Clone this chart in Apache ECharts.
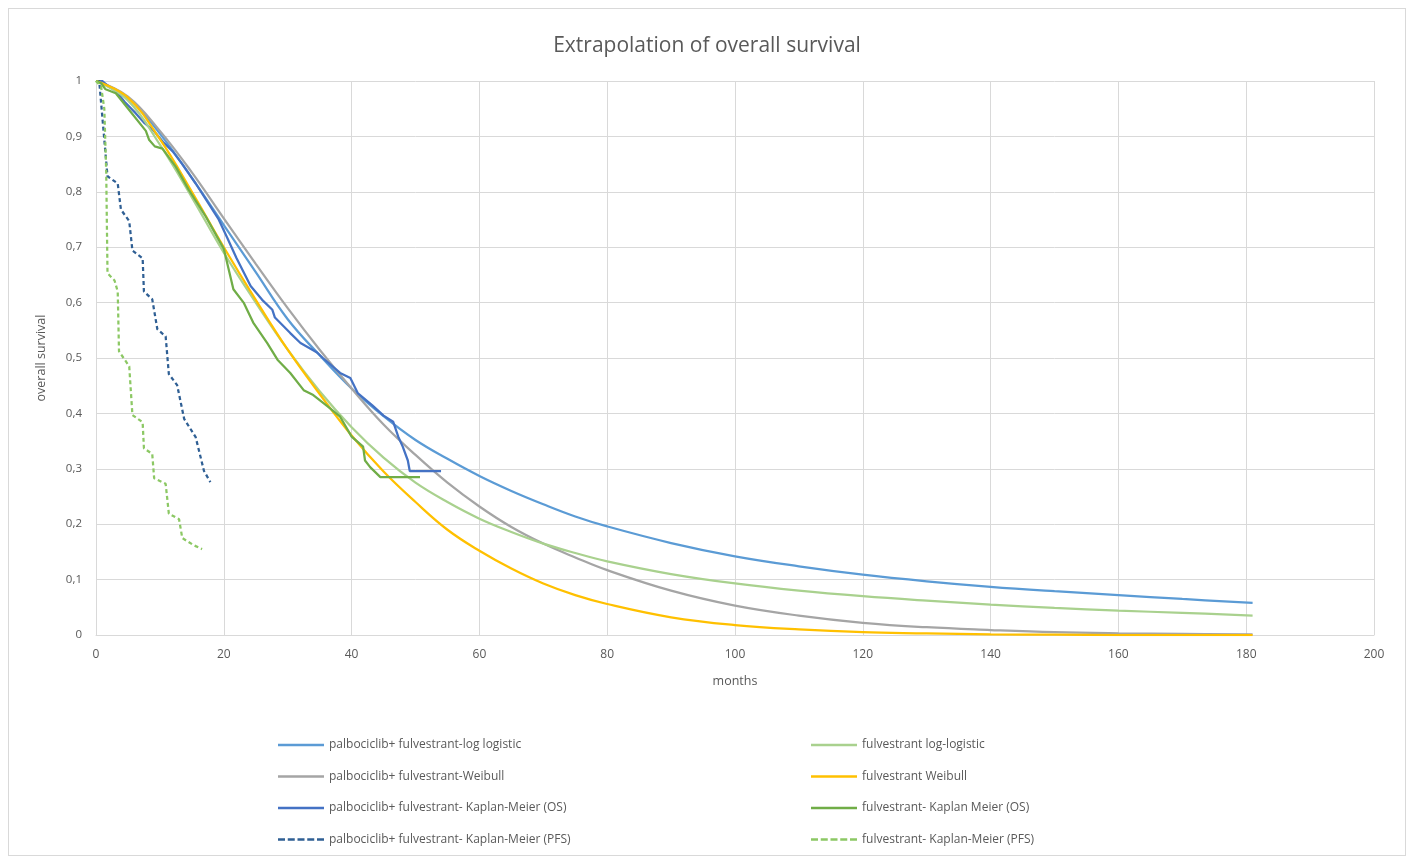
<!DOCTYPE html>
<html>
<head>
<meta charset="utf-8">
<title>Extrapolation of overall survival</title>
<script src="https://cdn.jsdelivr.net/npm/echarts@6/dist/echarts.min.js"></script>
<style>
  html, body { margin: 0; padding: 0; background: #ffffff; }
  #chart { position: absolute; left: 8px; top: 8px; width: 1398px; height: 848px; border: 1px solid #d9d9d9; box-sizing: border-box; }
</style>
</head>
<body>
<div id="chart"></div>
<script>
// Months at which the fitted (parametric) curves are sampled
const fitMonths = [0, 5, 10, 15, 20, 25, 30, 35, 40, 45, 50, 55, 60, 65, 70, 75, 80, 90, 100, 110, 120, 130, 140, 150, 160, 170, 181];

// Fitted survival curves
const palboLogLogistic = [1, 0.97, 0.905, 0.825, 0.74, 0.655, 0.57, 0.505, 0.445, 0.395, 0.352, 0.318, 0.287, 0.26, 0.236, 0.214, 0.196, 0.166, 0.142, 0.124, 0.109, 0.097, 0.087, 0.079, 0.072, 0.065, 0.058];
const palboWeibull = [1, 0.972, 0.91, 0.835, 0.752, 0.67, 0.59, 0.515, 0.445, 0.38, 0.325, 0.275, 0.232, 0.195, 0.165, 0.14, 0.117, 0.08, 0.053, 0.035, 0.022, 0.014, 0.009, 0.005, 0.003, 0.002, 0.001];
const fulvLogLogistic = [1, 0.965, 0.885, 0.79, 0.69, 0.6, 0.515, 0.44, 0.375, 0.32, 0.275, 0.24, 0.21, 0.186, 0.165, 0.148, 0.133, 0.11, 0.093, 0.08, 0.07, 0.062, 0.055, 0.049, 0.044, 0.04, 0.035];
const fulvWeibull = [1, 0.97, 0.895, 0.8, 0.7, 0.605, 0.515, 0.435, 0.36, 0.295, 0.24, 0.19, 0.152, 0.12, 0.093, 0.072, 0.056, 0.032, 0.018, 0.01, 0.005, 0.003, 0.001, 0.0005, 0, 0, 0];

// Kaplan-Meier estimates: [month, survival]
const palboKmOs = [[0, 1], [1, 1], [2, 0.99], [3.1, 0.982], [4.5, 0.962], [6.2, 0.942], [7.5, 0.925], [8.9, 0.912], [10.5, 0.89], [12, 0.873], [13.5, 0.85], [15.6, 0.815], [17, 0.79], [19.2, 0.75], [20.5, 0.718], [22, 0.68], [24.2, 0.63], [26, 0.605], [27.6, 0.587], [28, 0.573], [30.4, 0.545], [32, 0.527], [34.6, 0.51], [35.5, 0.5], [38.2, 0.473], [39.8, 0.464], [41, 0.436], [43.2, 0.415], [45, 0.396], [46.5, 0.385], [47.3, 0.358], [48, 0.34], [48.8, 0.315], [49.1, 0.296], [54, 0.296]];
const fulvKmOs = [[0, 1], [0.8, 0.996], [1.5, 0.985], [3.1, 0.978], [5.1, 0.949], [7.8, 0.91], [8.3, 0.894], [9.2, 0.882], [10.4, 0.878], [12.5, 0.845], [14.5, 0.804], [17.2, 0.755], [20, 0.697], [21.5, 0.624], [23.1, 0.6], [24.6, 0.564], [26.8, 0.527], [28.4, 0.497], [30.4, 0.473], [32.5, 0.442], [34, 0.433], [36.2, 0.413], [38.2, 0.394], [40, 0.358], [41.8, 0.34], [42.1, 0.315], [42.9, 0.303], [44.5, 0.285], [50.7, 0.285]];
const palboKmPfs = [[0, 1], [0.5, 1], [1.8, 0.828], [3.4, 0.815], [3.9, 0.768], [5.2, 0.747], [5.7, 0.694], [7.3, 0.68], [7.5, 0.62], [8.8, 0.606], [9.6, 0.552], [10.9, 0.539], [11.4, 0.471], [12.7, 0.451], [13.8, 0.39], [15.6, 0.357], [16.9, 0.296], [17.9, 0.276]];
const fulvKmPfs = [[0, 1], [0.8, 0.99], [1.3, 0.95], [1.6, 0.835], [1.8, 0.653], [2.9, 0.64], [3.4, 0.62], [3.6, 0.512], [5.2, 0.485], [5.7, 0.397], [7.3, 0.384], [7.5, 0.337], [8.8, 0.327], [9.1, 0.283], [10.9, 0.273], [11.4, 0.219], [13, 0.209], [13.5, 0.175], [15.3, 0.162], [16.6, 0.155]];

// Axis ticks
const xTicks = { min: 0, max: 200, interval: 20 };
const yTicks = { min: 0, max: 1, interval: 0.1 };

const seriesNames = [
  'palbociclib+ fulvestrant-log logistic',
  'palbociclib+ fulvestrant-Weibull',
  'palbociclib+ fulvestrant- Kaplan-Meier (OS)',
  'palbociclib+ fulvestrant- Kaplan-Meier (PFS)',
  'fulvestrant log-logistic',
  'fulvestrant Weibull',
  'fulvestrant- Kaplan Meier (OS)',
  'fulvestrant- Kaplan-Meier (PFS)'
];
const dashedNames = [seriesNames[3], seriesNames[7]];

const pair = (xs, ys) => xs.map((x, i) => [x, ys[i]]);

const textColor = '#595959';
const gridColor = '#d9d9d9';
const font = '"Open Sans", "Noto Sans", sans-serif';

// Legend keys: a plain stroke, or five short dashes for the PFS curves
const solidIcon = 'path://M0,0H46V2.4H0Z';
const dashedIcon = 'path://M0,0H7V2.4H0Z M9.75,0H16.75V2.4H9.75Z M19.5,0H26.5V2.4H19.5Z M29.25,0H36.25V2.4H29.25Z M39,0H46V2.4H39Z';

function lineSeries(name, data, color, opts) {
  return Object.assign({
    name: name,
    type: 'line',
    data: data,
    symbol: 'none',
    showSymbol: false,
    lineStyle: { color: color, width: 2.25 },
    itemStyle: { color: color },
    emphasis: { disabled: true },
    animation: false
  }, opts || {});
}

const chart = echarts.init(document.getElementById('chart'));

function makeLegend(left, names) {
  return {
    orient: 'vertical',
    left: left,
    top: 725,
    itemWidth: 46,
    itemHeight: 2.4,
    itemGap: 19.5,
    selectedMode: false,
    textStyle: { color: textColor, fontSize: 12, fontFamily: font },
    data: names.map(n => ({ name: n, icon: dashedNames.includes(n) ? dashedIcon : solidIcon }))
  };
}

chart.setOption({
  backgroundColor: '#ffffff',
  title: {
    text: 'Extrapolation of overall survival',
    left: 'center',
    top: 22,
    textStyle: { color: textColor, fontSize: 21, fontWeight: 'normal', fontFamily: font }
  },
  legend: [
    makeLegend(264, seriesNames.slice(0, 4)),
    makeLegend(797, seriesNames.slice(4, 8))
  ],
  grid: { left: 87, right: 31, top: 72, bottom: 220, containLabel: false },
  xAxis: {
    type: 'value',
    min: xTicks.min, max: xTicks.max, interval: xTicks.interval,
    name: 'months',
    nameLocation: 'middle',
    nameGap: 40,
    nameTextStyle: { color: textColor, fontSize: 12.5, fontFamily: font },
    axisLine: { show: true, lineStyle: { color: gridColor } },
    axisTick: { show: false },
    axisLabel: { color: textColor, fontSize: 12, fontFamily: font, margin: 14 },
    splitLine: { show: true, lineStyle: { color: gridColor, width: 1 } }
  },
  yAxis: {
    type: 'value',
    min: yTicks.min, max: yTicks.max, interval: yTicks.interval,
    name: 'overall survival',
    nameLocation: 'middle',
    nameGap: 48,
    nameTextStyle: { color: textColor, fontSize: 12.5, fontFamily: font },
    axisLine: { show: true, lineStyle: { color: gridColor } },
    axisTick: { show: false },
    axisLabel: {
      color: textColor, fontSize: 11.5, fontFamily: font, margin: 14,
      formatter: v => String(Math.round(v * 10) / 10).replace('.', ',')
    },
    splitLine: { show: true, lineStyle: { color: gridColor, width: 1 } }
  },
  series: [
    lineSeries(seriesNames[0], pair(fitMonths, palboLogLogistic), '#5b9bd5', { smooth: 0.4 }),
    lineSeries(seriesNames[1], pair(fitMonths, palboWeibull), '#a5a5a5', { smooth: 0.4 }),
    lineSeries(seriesNames[2], palboKmOs, '#4472c4'),
    lineSeries(seriesNames[3], palboKmPfs, '#2f5f94', { lineStyle: { color: '#2f5f94', width: 2.25, type: [4, 3] } }),
    lineSeries(seriesNames[4], pair(fitMonths, fulvLogLogistic), '#a9d18e', { smooth: 0.4 }),
    lineSeries(seriesNames[5], pair(fitMonths, fulvWeibull), '#ffc000', { smooth: 0.4 }),
    lineSeries(seriesNames[6], fulvKmOs, '#70ad47'),
    lineSeries(seriesNames[7], fulvKmPfs, '#8cc864', { lineStyle: { color: '#8cc864', width: 2.25, type: [4, 3] } })
  ]
});
</script>
</body>
</html>
